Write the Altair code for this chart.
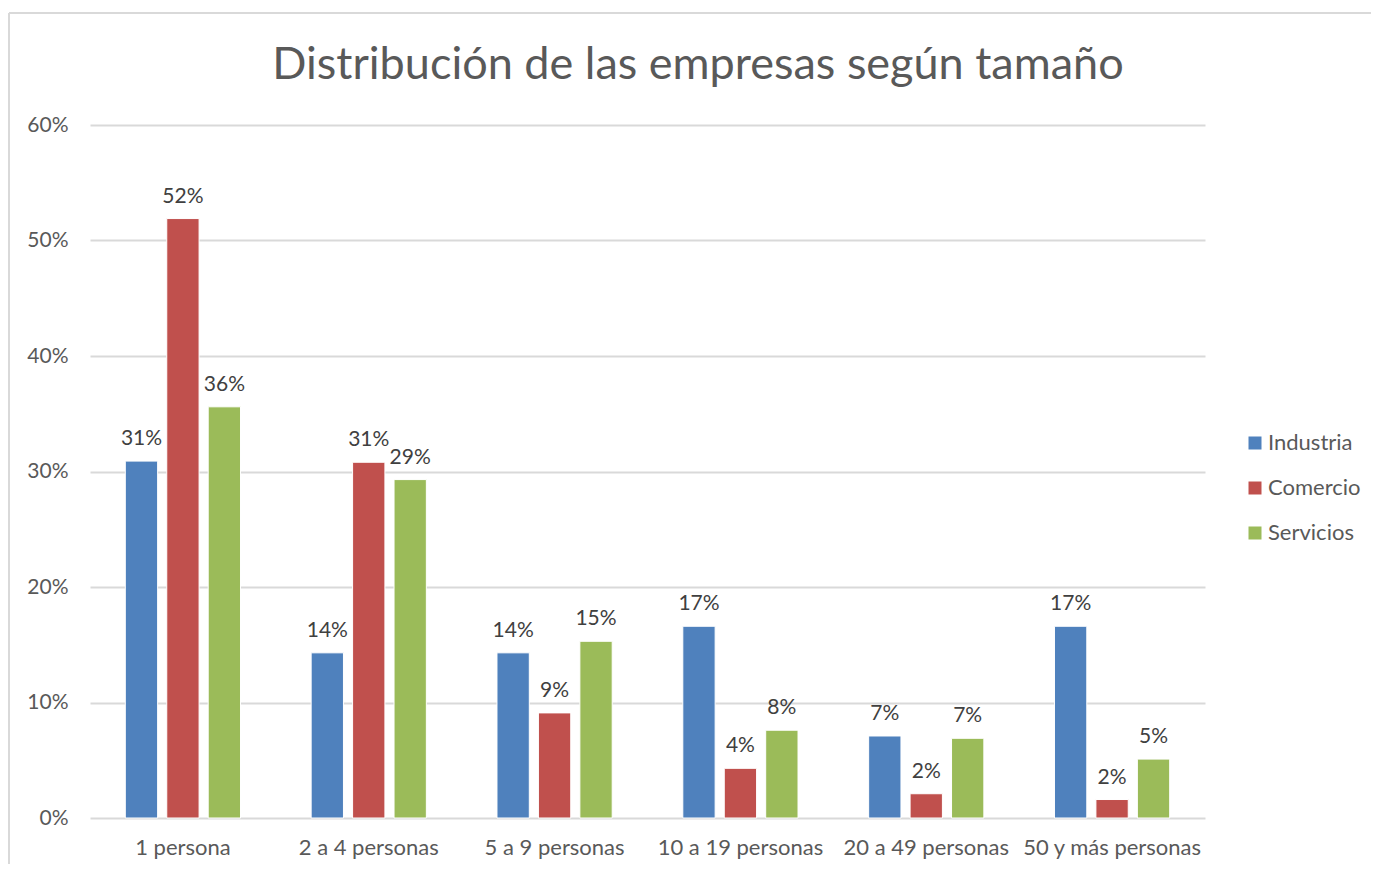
import altair as alt
import pandas as pd

categories = ["1 persona", "2 a 4 personas", "5 a 9 personas",
              "10 a 19 personas", "20 a 49 personas", "50 y más personas"]
series = ["Industria", "Comercio", "Servicios"]
industria = [0.309, 0.143, 0.143, 0.166, 0.071, 0.166]
comercio = [0.519, 0.308, 0.091, 0.043, 0.021, 0.016]
servicios = [0.356, 0.293, 0.153, 0.076, 0.069, 0.051]
colors = ["#4F81BD", "#C0504D", "#9BBB59"]
y_ticks = [0, 0.1, 0.2, 0.3, 0.4, 0.5, 0.6]
title_text = "Distribución de las empresas según tamaño"

rows = []
for s, vals in zip(series, [industria, comercio, servicios]):
    for c, v in zip(categories, vals):
        rows.append({"tamaño": c, "sector": s, "valor": v})
df = pd.DataFrame(rows)

FONT = "Lato"
GRAY = "#595959"

x = alt.X("tamaño:N", sort=categories, title=None,
          scale=alt.Scale(paddingInner=0.38, paddingOuter=0.19),
          axis=alt.Axis(labelAngle=0, labelFontSize=22, labelColor=GRAY,
                        labelPadding=19, ticks=False, domain=False,
                        labelFont=FONT, grid=False))
xoff = alt.XOffset("sector:N", sort=series,
                   scale=alt.Scale(paddingInner=0.22, paddingOuter=0))
y = alt.Y("valor:Q", title=None, scale=alt.Scale(domain=[0, 0.6]),
          axis=alt.Axis(format=".0%", values=y_ticks, labelFontSize=21,
                        labelColor=GRAY, labelFont=FONT, labelPadding=22,
                        ticks=False, domain=False, gridColor="#D9D9D9",
                        gridWidth=2))
color = alt.Color("sector:N", sort=series,
                  scale=alt.Scale(domain=series, range=colors),
                  legend=alt.Legend(title=None, orient="none", legendX=1154,
                                    legendY=307, symbolType="square",
                                    symbolSize=169, symbolStrokeWidth=0,
                                    labelFontSize=22, labelColor=GRAY,
                                    labelFont=FONT, rowPadding=23,
                                    labelOffset=2))

base = alt.Chart(df).encode(x=x, xOffset=xoff, y=y)
bars = base.mark_bar(stroke="white", strokeWidth=1).encode(color=color)
labels = base.mark_text(baseline="bottom", dy=-12, fontSize=21,
                        color="#404040", font=FONT).encode(
    text=alt.Text("valor:Q", format=".0%"))

frame_df = pd.DataFrame({"k": [0]})
left_border = alt.Chart(frame_df).mark_rule(color="#D9D9D9", strokeWidth=2).encode(
    x=alt.value(-81), y=alt.value(-112), y2=alt.value(760))
top_border = alt.Chart(frame_df).mark_rule(color="#D9D9D9", strokeWidth=2).encode(
    x=alt.value(-81), x2=alt.value(1400), y=alt.value(-112))

title_df = pd.DataFrame({"t": [title_text]})
title = alt.Chart(title_df).mark_text(
    fontSize=45, font=FONT, color=GRAY, align="center",
    baseline="alphabetic").encode(
    text="t:N", x=alt.value(608), y=alt.value(-46))

chart = alt.layer(left_border, top_border, bars, labels, title).properties(
    width=1115, height=693,
    padding={"left": 82, "top": 117, "right": 166, "bottom": 46},
    autosize=alt.AutoSizeParams(type="none"),
    background="white",
).configure_view(strokeWidth=0, stroke="transparent")

chart.save("out.html", embed_options={"renderer": "svg", "actions": False})
